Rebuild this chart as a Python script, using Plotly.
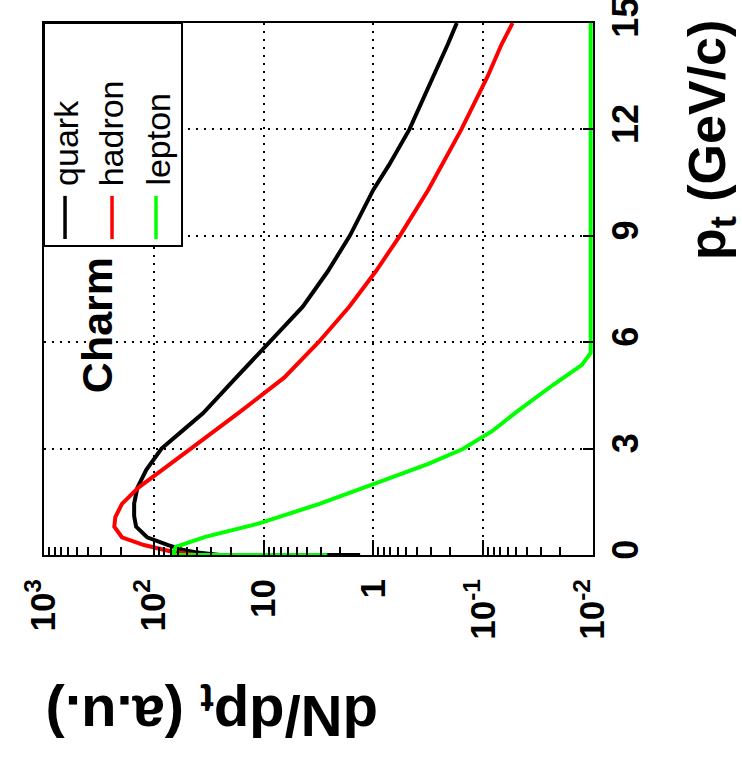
import plotly.graph_objects as go

# ---------------- data ----------------
pt_quark = [0, 0, 0.08, 0.15, 0.28, 0.5, 0.8, 1.1, 1.45, 1.9, 2.4, 3.0, 3.5, 4.0,
            5.0, 6.0, 7.0, 8.0, 9.0, 10.3, 11.0, 12.0, 13.5, 14.4, 15.0]
dn_quark = [1.32, 25, 42, 55, 74, 115, 145, 151, 151, 141, 117, 85, 55, 35.5,
            17.8, 8.9, 4.4, 2.6, 1.64, 1.0, 0.72, 0.47, 0.28, 0.21, 0.174]

pt_hadron = [0, 0, 0.09, 0.28, 0.5, 0.8, 1.07, 1.44, 1.9, 2.4, 3.0, 4.05, 5.0,
             6.0, 7.0, 8.0, 9.0, 10.3, 11.2, 12.0, 13.5, 14.4, 15.0]
dn_hadron = [3.2, 40, 68, 123, 195, 229, 224, 195, 138, 85, 46, 16.2, 6.5,
             3.16, 1.66, 0.95, 0.575, 0.316, 0.22, 0.158, 0.091, 0.068, 0.054]

pt_lepton = [0, 0, 0.23, 0.51, 0.89, 1.44, 2.0, 2.56, 2.98, 3.49, 4.05, 4.8,
             5.36, 5.7, 15.0]
dn_lepton = [2.63, 67, 63, 34, 11, 3.1, 1.0, 0.32, 0.155, 0.083, 0.049, 0.023,
             0.0126, 0.0105, 0.0105]

series_names = ["quark", "hadron", "lepton"]
series_colors = ["#000000", "#ff0000", "#00ff00"]

dn_tickvals = [1000, 100, 10, 1, 0.1, 0.01]
dn_ticktext = ["10<sup>3</sup>", "10<sup>2</sup>", "10", "1",
               "10<sup>-1</sup>", "10<sup>-2</sup>"]
pt_tickvals = [0, 3, 6, 9, 12, 15]
pt_ticktext = ["0", "3", "6", "9", "12", "15"]
minor_vals = [m * 10.0 ** k for k in range(-2, 3) for m in range(2, 10)]

FONT = "Liberation Sans, Arial, Helvetica, sans-serif"

# ---------------- figure ----------------
fig = go.Figure()
for pts, vals, name, col in [(pt_quark, dn_quark, series_names[0], series_colors[0]),
                             (pt_hadron, dn_hadron, series_names[1], series_colors[1]),
                             (pt_lepton, dn_lepton, series_names[2], series_colors[2])]:
    fig.add_trace(go.Scatter(x=vals, y=pts, mode="lines", name=name,
                             line=dict(color=col, width=4), showlegend=False))

fig.update_layout(
    width=742, height=757,
    margin=dict(l=44, r=149, t=23, b=202, autoexpand=False),
    paper_bgcolor="white", plot_bgcolor="white",
    showlegend=False,
    font=dict(family=FONT, color="black"),
)

fig.update_xaxes(
    type="log", range=[3, -2], autorange=False, automargin=False,
    tickmode="array", tickvals=dn_tickvals, ticktext=dn_ticktext,
    tickangle=-90, tickfont=dict(family=FONT, size=35, weight="bold", color="black"),
    ticks="inside", ticklen=15, tickwidth=1.5, tickcolor="black",
    ticklabelstandoff=8, ticklabeloverflow="allow",
    minor=dict(ticks="inside", ticklen=8, tickwidth=1.5, tickcolor="black",
               tickmode="array", tickvals=minor_vals, showgrid=False),
    showgrid=True, gridcolor="black", gridwidth=1.5, griddash="2px,6px",
    showline=True, linecolor="black", linewidth=2, mirror=True,
    zeroline=False,
)

fig.update_yaxes(
    range=[0, 15], autorange=False, side="right", automargin=False,
    tickmode="array", tickvals=pt_tickvals, ticktext=pt_ticktext,
    tickangle=-90, tickfont=dict(family=FONT, size=36, weight="bold", color="black"),
    ticks="inside", ticklen=10, tickwidth=1.5, tickcolor="black",
    ticklabelstandoff=0, ticklabeloverflow="allow",
    showgrid=True, gridcolor="black", gridwidth=1.5, griddash="2px,6px",
    showline=True, linecolor="black", linewidth=2, mirror=True,
    zeroline=False,
)

# ---------------- rotated legend box ----------------
fig.add_shape(type="rect", xref="paper", yref="paper", x0=0, x1=0.2514, y0=0.5808, y1=1.0,
              line=dict(color="black", width=2), fillcolor="white", layer="above")
leg_x_line = [0.0383, 0.1239, 0.2040]
leg_x_text = [0.0400, 0.1210, 0.2080]
for i in range(3):
    fig.add_shape(type="line", xref="paper", yref="paper",
                  x0=leg_x_line[i], x1=leg_x_line[i], y0=0.594, y1=0.675,
                  line=dict(color=series_colors[i], width=3.5), layer="above")
    fig.add_annotation(text=series_names[i], xref="paper", yref="paper",
                       x=leg_x_text[i], y=0.690, xanchor="center", yanchor="bottom",
                       textangle=-90, showarrow=False,
                       font=dict(family=FONT, size=34, color="black"))

# ---------------- labels ----------------
fig.add_annotation(text="Charm", xref="paper", yref="paper", x=0.0965, y=0.432,
                   xanchor="center", yanchor="middle", textangle=-90, showarrow=False,
                   font=dict(family=FONT, size=43, color="black", weight="bold"))
fig.add_annotation(text="p<sub>t</sub> (GeV/c)", xref="paper", yref="paper",
                   x=1.2150, y=0.78, xanchor="center", yanchor="middle",
                   textangle=-90, showarrow=False,
                   font=dict(family=FONT, size=52, color="black", weight="bold"))
fig.add_annotation(text="dN/dp<sub>t</sub> (a.u.)", xref="paper", yref="paper",
                   x=0.306, y=-0.295, xanchor="center", yanchor="middle",
                   textangle=180, showarrow=False,
                   font=dict(family=FONT, size=58, color="black", weight="bold"))

# remove the default 8px page margin so the figure fills the window exactly
fig.write_html("out.html", config={"displayModeBar": False},
               post_script="document.body.style.margin='0px';")
